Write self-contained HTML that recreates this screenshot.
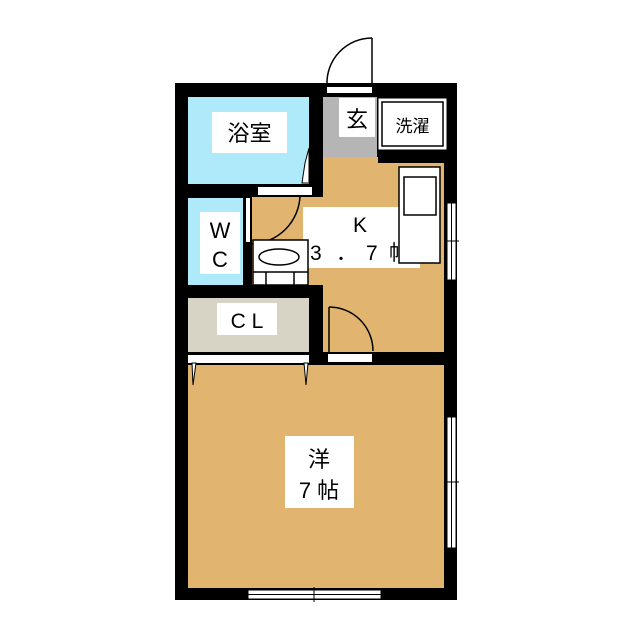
<!DOCTYPE html>
<html><head><meta charset="utf-8"><style>
html,body{margin:0;padding:0;background:#fff;}
svg{display:block;}
text{font-family:"Liberation Sans","Noto Sans CJK JP",sans-serif;fill:#000;}
</style></head><body>
<svg width="640" height="640" viewBox="0 0 640 640" xmlns="http://www.w3.org/2000/svg">
<rect width="640" height="640" fill="#fff"/>
<rect x="175" y="83" width="282" height="517" fill="#000"/>
<rect x="188" y="97" width="121" height="87" fill="#aeeaf9"/>
<rect x="323" y="97" width="54" height="60" fill="#b5b5b5"/>
<rect x="378" y="98" width="69" height="52" fill="#fff" stroke="#000" stroke-width="1"/>
<rect x="382" y="102" width="61" height="44" fill="#fff" stroke="#000" stroke-width="1.5"/>
<path d="M323 157 H378 V163 H444 V352 H323 V285 H252 V197 H323 Z" fill="#e1b570"/>
<rect x="188" y="198" width="55" height="87" fill="#aeeaf9"/>
<rect x="188" y="298" width="121" height="54" fill="#d7d4c6"/>
<rect x="188" y="365" width="256" height="223" fill="#e1b570"/>
<rect x="327" y="87" width="45" height="6" fill="#fff"/>
<path d="M327 85 A45 45 0 0 1 372 38" fill="none" stroke="#000" stroke-width="1.5"/>
<line x1="372" y1="38" x2="372" y2="86" stroke="#000" stroke-width="1.5"/>
<rect x="258" y="187" width="54" height="8" fill="#fff"/>
<path d="M305 163 L309 148 L309 183 L302 183 Z" fill="#fff" stroke="#000" stroke-width="1"/>
<rect x="246" y="198" width="4" height="44" fill="#fff"/>
<path d="M300 196 A50 50 0 0 1 252 244" fill="none" stroke="#000" stroke-width="1.5"/>
<rect x="303" y="207" width="117" height="61" fill="#fff"/>
<text x="360" y="232" font-size="21" text-anchor="middle">K</text>
<text x="310" y="260" font-size="21">3</text>
<text x="336" y="260" font-size="21">．</text>
<text x="366" y="260" font-size="21">7</text>
<text x="389" y="260" font-size="21">帖</text>
<rect x="399" y="167" width="41" height="96" fill="#fff" stroke="#000" stroke-width="1.5"/>
<rect x="404" y="177" width="32" height="38" fill="#fff" stroke="#000" stroke-width="1.5"/>
<rect x="447" y="203" width="9" height="77" fill="#fff" stroke="#000" stroke-width="1"/>
<line x1="451.5" y1="203" x2="451.5" y2="280" stroke="#000" stroke-width="1"/>
<line x1="444" y1="241" x2="459" y2="241" stroke="#000" stroke-width="1"/>
<rect x="253" y="240" width="55" height="45" fill="#fff" stroke="#000" stroke-width="1.5"/>
<ellipse cx="279" cy="257" rx="20" ry="8" fill="#fff" stroke="#000" stroke-width="1.5"/>
<line x1="253" y1="272" x2="308" y2="272" stroke="#000" stroke-width="1.5"/>
<line x1="266" y1="272" x2="266" y2="285" stroke="#000" stroke-width="1.5"/>
<line x1="294" y1="272" x2="294" y2="285" stroke="#000" stroke-width="1.5"/>
<rect x="212" y="112" width="75" height="41" fill="#fff"/>
<text x="249.5" y="141" font-size="22" text-anchor="middle">浴室</text>
<rect x="339" y="98" width="36" height="39" fill="#fff"/>
<text x="357" y="127" font-size="22" text-anchor="middle">玄</text>
<text x="412.5" y="132" font-size="17" text-anchor="middle">洗濯</text>
<rect x="200" y="212" width="40" height="62" fill="#fff"/>
<text x="220" y="238" font-size="22" text-anchor="middle">W</text>
<text x="220" y="267" font-size="22" text-anchor="middle">C</text>
<rect x="217" y="303" width="60" height="32" fill="#fff"/>
<text x="247" y="328" font-size="21" text-anchor="middle">C L</text>
<rect x="188" y="355" width="121" height="8" fill="#fff"/>
<path d="M192 363 L196 363 L193 385 Z" fill="#fff" stroke="#000" stroke-width="1"/>
<path d="M304 363 L308 363 L306 385 Z" fill="#fff" stroke="#000" stroke-width="1"/>
<rect x="328" y="354" width="44" height="8" fill="#fff"/>
<line x1="329" y1="352" x2="329" y2="307" stroke="#000" stroke-width="1.5"/>
<path d="M329 307 A44 44 0 0 1 373 351" fill="none" stroke="#000" stroke-width="1.5"/>
<rect x="285" y="436" width="69" height="72" fill="#fff"/>
<text x="319" y="467" font-size="22" text-anchor="middle">洋</text>
<text x="319" y="498" font-size="22" text-anchor="middle">7 帖</text>
<rect x="447" y="417" width="9" height="131" fill="#fff" stroke="#000" stroke-width="1"/>
<line x1="451.5" y1="417" x2="451.5" y2="548" stroke="#000" stroke-width="1"/>
<line x1="444" y1="482" x2="459" y2="482" stroke="#000" stroke-width="1"/>
<rect x="248" y="590" width="133" height="9" fill="#fff" stroke="#000" stroke-width="1"/>
<line x1="248" y1="594.5" x2="381" y2="594.5" stroke="#000" stroke-width="1"/>
<line x1="314" y1="587" x2="314" y2="602" stroke="#000" stroke-width="1"/>
</svg>
</body></html>
